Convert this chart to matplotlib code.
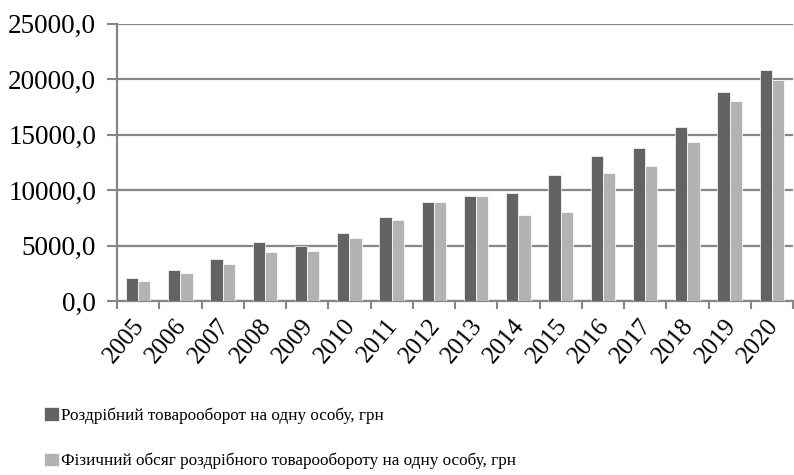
import matplotlib
matplotlib.use("Agg")
import matplotlib.pyplot as plt
import matplotlib.transforms as mtransforms
import numpy as np
from matplotlib.ticker import FuncFormatter

years = ["2005", "2006", "2007", "2008", "2009", "2010", "2011", "2012",
         "2013", "2014", "2015", "2016", "2017", "2018", "2019", "2020"]
retail = [2050, 2770, 3780, 5290, 4990, 6100, 7600, 8890,
          9460, 9700, 11320, 13060, 13760, 15700, 18860, 20810]
physical = [1800, 2520, 3300, 4390, 4500, 5650, 7300, 8890,
            9460, 7720, 7990, 11560, 12130, 14320, 18050, 19910]
labels = ["Роздрібний товарооборот на одну особу, грн",
          "Фізичний обсяг роздрібного товарообороту на одну особу, грн"]

plt.rcParams['font.family'] = ['Liberation Serif', 'DejaVu Serif']

fig = plt.figure(figsize=(7.94, 4.75), dpi=100)
ax = fig.add_axes([117/794, 1 - 301/475, (793 - 117)/794, (301 - 23.5)/475])

x = np.arange(len(years))
w = 0.29
ax.bar(x - w/2, retail, w, color="#636363", edgecolor="white", linewidth=0.5, label=labels[0], zorder=3)
ax.bar(x + w/2, physical, w, color="#b3b3b3", edgecolor="white", linewidth=0.5, label=labels[1], zorder=3)

ax.set_xlim(-0.5, len(years) - 0.5)
ax.set_ylim(0, 25000)
ax.set_yticks(np.arange(0, 25001, 5000))
ax.yaxis.set_major_formatter(FuncFormatter(lambda v, p: f"{v:.1f}".replace(".", ",")))
ax.grid(axis="y", color="#878787", linewidth=1.6, zorder=0)
ax.set_axisbelow(True)

ax.set_xticks(np.arange(-0.5, len(years), 1))
ax.set_xticklabels([])
ax.set_xticks(x, minor=True)
ax.set_xticklabels(years, minor=True, rotation=50, ha="right", va="top",
                   rotation_mode="anchor", fontsize=18)
ax.tick_params(axis="x", which="minor", length=0, pad=10)
ax.tick_params(axis="x", which="major", length=6, width=1.5, color="#878787")
ax.tick_params(axis="y", length=7, width=1.5, color="#878787", labelsize=19.5, pad=8)

shift = mtransforms.ScaledTranslation(-6/100, 0, fig.dpi_scale_trans)
for lbl in ax.get_xticklabels(minor=True):
    lbl.set_transform(lbl.get_transform() + shift)

for s in ["top", "right"]:
    ax.spines[s].set_visible(False)
for s in ["left", "bottom"]:
    ax.spines[s].set_color("#878787")
    ax.spines[s].set_linewidth(1.6)

fig.legend(loc="upper left", bbox_to_anchor=(44/794, 1 - 407/475), frameon=False,
           fontsize=12.3, handlelength=0.85, handleheight=0.85, handletextpad=0.15,
           labelspacing=1.7, borderaxespad=0, borderpad=0)

fig.savefig("out.png", dpi=100)
